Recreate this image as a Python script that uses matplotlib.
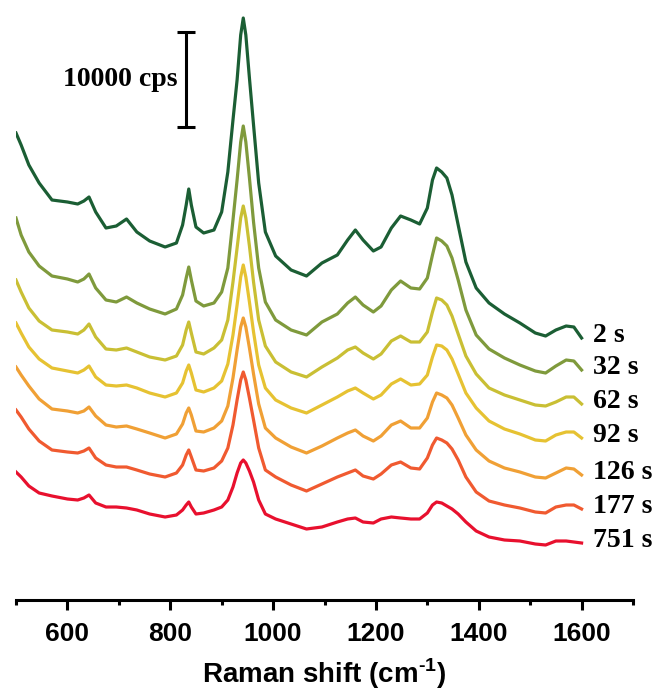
import numpy as np
import matplotlib.pyplot as plt

plt.rcParams['mathtext.fontset'] = 'custom'
plt.rcParams['mathtext.bf'] = 'Liberation Sans:bold'
plt.rcParams['mathtext.rm'] = 'Liberation Sans'

# Raman shift grid (cm-1)
shift = [500, 510, 525, 545, 570, 600, 620, 632, 642, 655,
         675, 695, 715, 735, 760, 790, 812, 824, 831, 836,
         841, 850, 865, 885, 900, 912, 922, 930, 937, 942,
         947, 954, 962, 972, 985, 1005, 1035, 1065, 1095, 1125,
         1145, 1160, 1175, 1195, 1210, 1230, 1248, 1268, 1285, 1300,
         1310, 1318, 1328, 1338, 1348, 1360, 1375, 1395, 1420, 1450,
         1480, 1510, 1530, 1550, 1570, 1585, 1600]

# stacked intensities (display units, 95 units = 10000 cps)
s_2 = [467, 455, 435, 417, 400, 398, 396, 399, 403, 388,
       372, 374, 381, 368, 359, 353, 357, 375, 395, 411,
       395, 373, 367, 370, 388, 428, 480, 520, 565, 582,
       565, 522, 475, 417, 368, 344, 330, 324, 337, 345,
       360, 370, 360, 349, 353, 372, 384, 380, 376, 392,
       420, 432, 428, 422, 405, 375, 338, 312, 297, 286,
       277, 267, 264, 270, 274, 273, 262]
s_32 = [382, 365, 348, 334, 324, 321, 318, 321, 326, 312,
        300, 298, 303, 297, 291, 286, 291, 305, 322, 333,
        320, 299, 294, 297, 308, 332, 380, 420, 458, 474,
        458, 422, 378, 332, 298, 280, 270, 265, 278, 286,
        297, 303, 295, 288, 294, 310, 319, 312, 311, 322,
        345, 362, 359, 354, 342, 320, 290, 265, 251, 242,
        235, 229, 227, 234, 240, 239, 230]
s_62 = [320, 308, 292, 279, 270, 268, 266, 270, 276, 263,
        251, 250, 252, 248, 243, 240, 244, 255, 270, 278,
        267, 248, 246, 252, 260, 280, 318, 352, 382, 394,
        382, 354, 318, 280, 254, 238, 228, 223, 233, 242,
        250, 253, 247, 241, 246, 259, 264, 258, 258, 268,
        288, 302, 300, 295, 284, 266, 244, 226, 212, 205,
        200, 195, 194, 198, 203, 203, 196]
s_92 = [277, 267, 253, 241, 232, 229, 227, 230, 234, 223,
        215, 214, 215, 212, 207, 203, 207, 217, 229, 235,
        227, 210, 208, 212, 219, 236, 265, 295, 323, 335,
        323, 298, 268, 235, 212, 200, 192, 187, 195, 203,
        209, 212, 207, 201, 205, 216, 221, 215, 216, 225,
        243, 255, 254, 250, 241, 226, 207, 192, 179, 171,
        166, 160, 159, 165, 168, 168, 162]
s_126 = [233, 225, 214, 201, 191, 189, 187, 189, 193, 184,
         175, 173, 174, 171, 167, 162, 166, 176, 187, 192,
         185, 169, 168, 172, 179, 194, 222, 250, 273, 282,
         273, 252, 226, 196, 172, 162, 153, 147, 154, 162,
         167, 170, 164, 159, 164, 175, 179, 172, 172, 182,
         198, 207, 205, 202, 195, 182, 165, 150, 139, 132,
         128, 123, 122, 127, 132, 131, 125]
s_177 = [190, 183, 171, 159, 150, 148, 147, 149, 152, 142,
         135, 133, 133, 130, 126, 123, 127, 135, 145, 150,
         143, 130, 129, 132, 139, 152, 175, 200, 220, 228,
         220, 202, 180, 152, 130, 123, 115, 109, 116, 123,
         127, 130, 124, 121, 126, 135, 138, 132, 131, 142,
         155, 162, 160, 157, 151, 140, 123, 108, 99, 95,
         92, 88, 87, 93, 95, 95, 91]
s_751 = [128, 123, 114, 107, 104, 101, 100, 102, 105, 97,
         93, 93, 92, 90, 86, 83, 85, 90, 95, 98,
         93, 86, 87, 90, 93, 100, 113, 127, 137, 140,
         137, 129, 118, 100, 86, 81, 76, 71, 73, 78,
         81, 82, 78, 77, 81, 83, 82, 81, 81, 87,
         95, 98, 97, 94, 91, 86, 78, 69, 63, 60,
         59, 56, 55, 59, 59, 58, 57]

labels = ['2 s', '32 s', '62 s', '92 s', '126 s', '177 s', '751 s']
colors = ['#1b5e34', '#7f9a3c', '#c9bf34', '#e6c232',
          '#f0a035', '#f05a30', '#e8102e']
spectra = [s_2, s_32, s_62, s_92, s_126, s_177, s_751]

fig = plt.figure(figsize=(6.59, 6.93), dpi=100)
ax = fig.add_axes([16 / 659, 93 / 693, 617 / 659, 600 / 693])

for y, lab, c in zip(spectra, labels, colors):
    ax.plot(shift, y, color=c, lw=2.3, solid_joinstyle='round')
    ax.annotate(lab, xy=(shift[-1], y[-1]), xytext=(8, 2),
                textcoords='offset points', va='center', ha='left',
                fontsize=20, fontweight='bold', family='Liberation Serif',
                annotation_clip=False)

# scale bar
ax.errorbar([830], [520.5], yerr=[47.5], color='black', lw=2.2,
            capsize=6.5, capthick=2.2)
ax.text(815, 521, '10000 cps', ha='right', va='center', fontsize=20,
        fontweight='bold', family='Liberation Serif')

ax.set_xlim(500, 1700)
ax.set_ylim(0, 600)
for s in ['top', 'right', 'left']:
    ax.spines[s].set_visible(False)
ax.spines['bottom'].set_linewidth(2.2)
ax.set_yticks([])
ax.set_xticks(range(600, 1700, 200))
ax.set_xticks(range(500, 1701, 200), minor=True)
ax.tick_params(axis='x', which='major', length=7.5, width=2.2, pad=8,
               labelsize=19)
ax.tick_params(axis='x', which='minor', length=3.8, width=2.2)
for t in ax.get_xticklabels():
    t.set_fontweight('bold')
    t.set_family('Liberation Sans')
ax.set_xlabel('Raman shift (cm$^{\\mathbf{\u2010}\\mathbf{1}}$)', fontsize=20,
              fontweight='bold', family='Liberation Sans', labelpad=8)

plt.savefig('out.png', dpi=100)
